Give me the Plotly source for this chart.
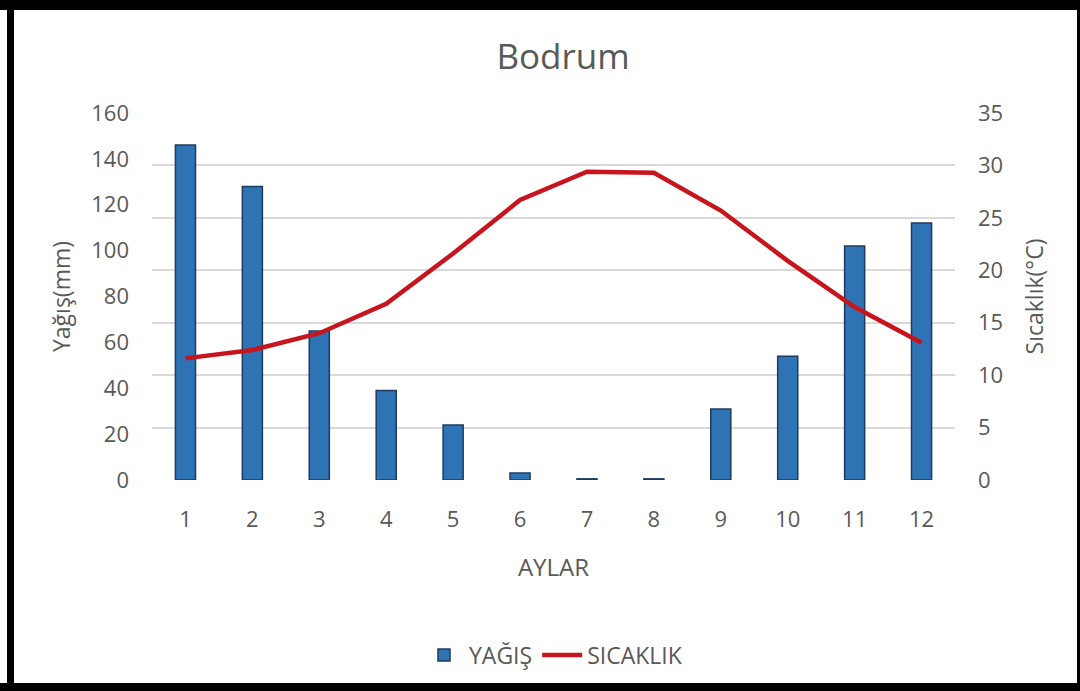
import plotly.graph_objects as go

months = [1, 2, 3, 4, 5, 6, 7, 8, 9, 10, 11, 12]
month_labels = ["1", "2", "3", "4", "5", "6", "7", "8", "9", "10", "11", "12"]
yagis_mm = [146, 128, 65, 39, 24, 3, 0.5, 0.5, 31, 54, 102, 112]
sicaklik_c = [11.6, 12.4, 14.0, 16.8, 21.6, 26.7, 29.4, 29.3, 25.7, 20.9, 16.5, 13.1]
left_ticks = [0, 20, 40, 60, 80, 100, 120, 140, 160]
right_ticks = [0, 5, 10, 15, 20, 25, 30, 35]

W, H = 1080, 691
L, R, T, B = 152, 955, 113, 480
FONT = "Open Sans"
GREY = "#595959"

fig = go.Figure()
fig.add_trace(go.Bar(
    x=months, y=yagis_mm, name="YAĞIŞ", width=0.3,
    marker=dict(color="#2e74b5", line=dict(color="#1f3a5f", width=1.5)),
    yaxis="y",
))
fig.add_trace(go.Scatter(
    x=months, y=sicaklik_c, name="SICAKLIK", mode="lines",
    line=dict(color="#c8141c", width=4.5), yaxis="y2",
))

def px_to_paper_x(px):
    return (px - L) / (R - L)

def px_to_paper_y(py):
    return (B - py) / (B - T)

# black frame around the picture
frame = [
    (0, 0, W, 10),
    (0, 683, W, H),
    (7, 0, 14, H),
    (1077, 0, W, H),
]
shapes = []
for x0, y0, x1, y1 in frame:
    shapes.append(dict(
        type="rect", xref="paper", yref="paper",
        x0=px_to_paper_x(x0), x1=px_to_paper_x(x1),
        y0=px_to_paper_y(y1), y1=px_to_paper_y(y0),
        fillcolor="black", line=dict(width=0), layer="above",
    ))

fig.update_layout(
    width=W, height=H,
    margin=dict(l=L, r=W - R, t=T, b=H - B, pad=0),
    paper_bgcolor="white", plot_bgcolor="white",
    font=dict(family=FONT, color=GREY, size=22),
    title=dict(text="Bodrum", x=563 / W, y=1 - 57 / H, xref="container", yref="container",
               xanchor="center", yanchor="middle", font=dict(size=35, color=GREY, family=FONT)),
    xaxis=dict(range=[0.5, 12.5], tickvals=months, ticktext=month_labels,
               showgrid=False, zeroline=False, showline=False, ticks="",
               ticklabelstandoff=24, tickfont=dict(size=22),
               title=dict(text="AYLAR", standoff=27, font=dict(size=24))),
    yaxis=dict(range=[0, 160], tickvals=left_ticks, showgrid=False, zeroline=False,
               showline=False, ticks="", ticklabelstandoff=22, tickfont=dict(size=22),
               title=dict(text="Yağış(mm)", standoff=14, font=dict(size=23))),
    yaxis2=dict(range=[0, 35], tickvals=right_ticks, overlaying="y", side="right",
                showgrid=True, gridcolor="#d9d9d9", gridwidth=2, zeroline=False,
                showline=False, ticks="", ticklabelstandoff=22, tickfont=dict(size=22),
                title=dict(text="Sıcaklık(°C)", standoff=24, font=dict(size=23))),
    legend=dict(orientation="h", x=0.5, xanchor="center", y=px_to_paper_y(655),
                yanchor="middle", font=dict(size=23), itemwidth=40, traceorder="normal"),
    shapes=shapes,
    showlegend=True,
)

fig.write_html("out.html", config={"displayModeBar": False},
               post_script="document.body.style.margin='0';")
